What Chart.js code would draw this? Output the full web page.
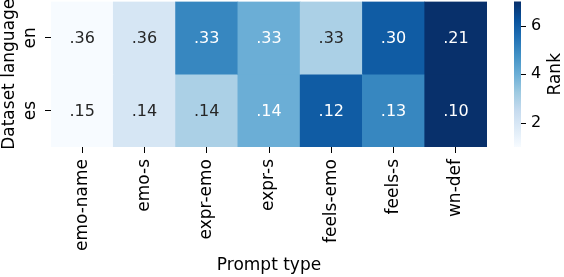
<!DOCTYPE html>
<html><head><meta charset="utf-8">
<script src="https://cdn.jsdelivr.net/npm/chart.js@4"></script>
<style>html,body{margin:0;padding:0;background:#fff}canvas{display:block}</style>
</head><body>
<canvas id="c" width="564" height="277"></canvas>
<script>
const promptTypes = ['emo-name','emo-s','expr-emo','expr-s','feels-emo','feels-s','wn-def'];
const languages = ['en','es'];
const enScores = [0.36,0.36,0.33,0.33,0.33,0.30,0.21];
const esScores = [0.15,0.14,0.14,0.14,0.12,0.13,0.10];
const enRanks = [1,2,5,4,3,6,7];
const esRanks = [1,2,3,4,6,5,7];
const rankTicks = [2,4,6];
const rankMin = 1, rankMax = 7;

const FONT = "'DejaVu Sans', sans-serif";
const blues = ['#f7fbff','#deebf7','#c6dbef','#9ecae1','#6baed6','#4292c6','#2171b5','#08519c','#08306b'];
function hex2rgb(h){return [1,3,5].map(i=>parseInt(h.substr(i,2),16));}
function bluesAt(t){t=Math.max(0,Math.min(1,t));const p=t*8;const i=Math.min(7,Math.floor(p));const f=p-i;const a=hex2rgb(blues[i]),b=hex2rgb(blues[i+1]);return 'rgb('+a.map((v,k)=>Math.round(v+(b[k]-v)*f)).join(',')+')';}
const rankColor = r => bluesAt((r-rankMin)/(rankMax-rankMin));
const fmt = v => v.toFixed(2).replace(/^0/,'');

const rows = [
  {label: languages[0], scores: enScores, ranks: enRanks},
  {label: languages[1], scores: esScores, ranks: esRanks}
];

const annotPlugin = {
  id: 'annot',
  afterDatasetsDraw(chart){
    const ctx = chart.ctx;
    ctx.save();
    ctx.font = '16px ' + FONT;
    ctx.textAlign = 'center';
    ctx.textBaseline = 'middle';
    rows.forEach((row, i) => {
      const meta = chart.getDatasetMeta(i);
      meta.data.forEach((bar, j) => {
        const p = bar.getProps(['x','y','base'], true);
        ctx.fillStyle = row.ranks[j] >= 4 ? '#ffffff' : '#262626';
        ctx.fillText(fmt(row.scores[j]), p.x, (p.y + p.base) / 2 + 1);
      });
    });
    ctx.restore();
  }
};

const colorbarPlugin = {
  id: 'colorbar',
  afterDraw(chart){
    const ctx = chart.ctx;
    const s = chart.scales.cb;
    const area = chart.chartArea;
    const x0 = area.right + 27, w = 7;
    const yTop = s.getPixelForValue(rankMax), yBot = s.getPixelForValue(rankMin);
    const g = ctx.createLinearGradient(0, yBot, 0, yTop);
    blues.forEach((c, k) => g.addColorStop(k / (blues.length - 1), c));
    ctx.save();
    ctx.fillStyle = g;
    ctx.fillRect(x0, yTop, w, yBot - yTop);
    ctx.strokeStyle = '#000';
    ctx.lineWidth = 1;
    rankTicks.forEach(v => {
      const y = Math.round(s.getPixelForValue(v)) + 0.5;
      ctx.beginPath(); ctx.moveTo(x0 + w, y); ctx.lineTo(x0 + w + 5, y); ctx.stroke();
    });
    ctx.fillStyle = '#000';
    ctx.font = '17px ' + FONT;
    ctx.textAlign = 'center';
    ctx.textBaseline = 'middle';
    ctx.translate(x0 + w + 35, (yTop + yBot) / 2);
    ctx.rotate(-Math.PI / 2);
    ctx.fillText('Rank', 0, 0);
    ctx.restore();
    // y-axis title
    ctx.save();
    ctx.fillStyle = '#000';
    ctx.font = '17px ' + FONT;
    ctx.textAlign = 'center';
    ctx.textBaseline = 'middle';
    ctx.translate(10, (area.top + area.bottom) / 2);
    ctx.rotate(-Math.PI / 2);
    ctx.fillText('Dataset language', 0, 0);
    ctx.restore();
  }
};

function zeroPad(s){ s.paddingTop = 0; s.paddingBottom = 0; s.paddingLeft = 0; s.paddingRight = 0; }

new Chart(document.getElementById('c'), {
  type: 'bar',
  data: {
    labels: promptTypes,
    datasets: rows.map(row => ({
      label: row.label,
      data: promptTypes.map(() => 1),
      backgroundColor: row.ranks.map(rankColor),
      borderWidth: 0,
      barPercentage: 1,
      categoryPercentage: 1,
      stack: 'heat'
    }))
  },
  options: {
    responsive: false,
    animation: false,
    devicePixelRatio: 1,
    layout: {padding: {top: 1.5, left: 0, right: 0, bottom: 0}},
    plugins: {legend: {display: false}, tooltip: {enabled: false}},
    scales: {
      x: {
        stacked: true,
        offset: true,
        grid: {display: true, drawOnChartArea: false, offset: false, tickLength: 6, color: '#000', tickWidth: 1},
        border: {display: false},
        ticks: {minRotation: 90, maxRotation: 90, padding: 6, color: '#000', font: {family: FONT, size: 17}},
        title: {display: true, text: 'Prompt type', color: '#000', font: {family: FONT, size: 17}, padding: {top: 0, bottom: 1}},
        afterFit: s => { s.height = 130; zeroPad(s); }
      },
      y: {
        type: 'linear',
        stacked: true,
        reverse: true,
        min: 0, max: 2,
        position: 'left',
        afterBuildTicks: s => { s.ticks = [0.5, 1.5].map(v => ({value: v})); },
        grid: {display: true, drawOnChartArea: false, tickLength: 6, color: '#000', tickWidth: 1},
        border: {display: false},
        ticks: {minRotation: 90, maxRotation: 90, crossAlign: 'center', padding: 4, color: '#000', font: {family: FONT, size: 17},
          callback: v => languages[Math.floor(v)]},
        afterFit: s => { s.width = 51; zeroPad(s); }
      },
      cb: {
        type: 'linear',
        position: 'right',
        min: rankMin, max: rankMax,
        afterBuildTicks: s => { s.ticks = rankTicks.map(v => ({value: v})); },
        grid: {display: false, drawTicks: false},
        border: {display: false},
        ticks: {padding: 44, color: '#000', font: {family: FONT, size: 16}},
        afterFit: s => { s.width = 77; zeroPad(s); }
      }
    }
  },
  plugins: [annotPlugin, colorbarPlugin]
});
</script>
</body></html>
